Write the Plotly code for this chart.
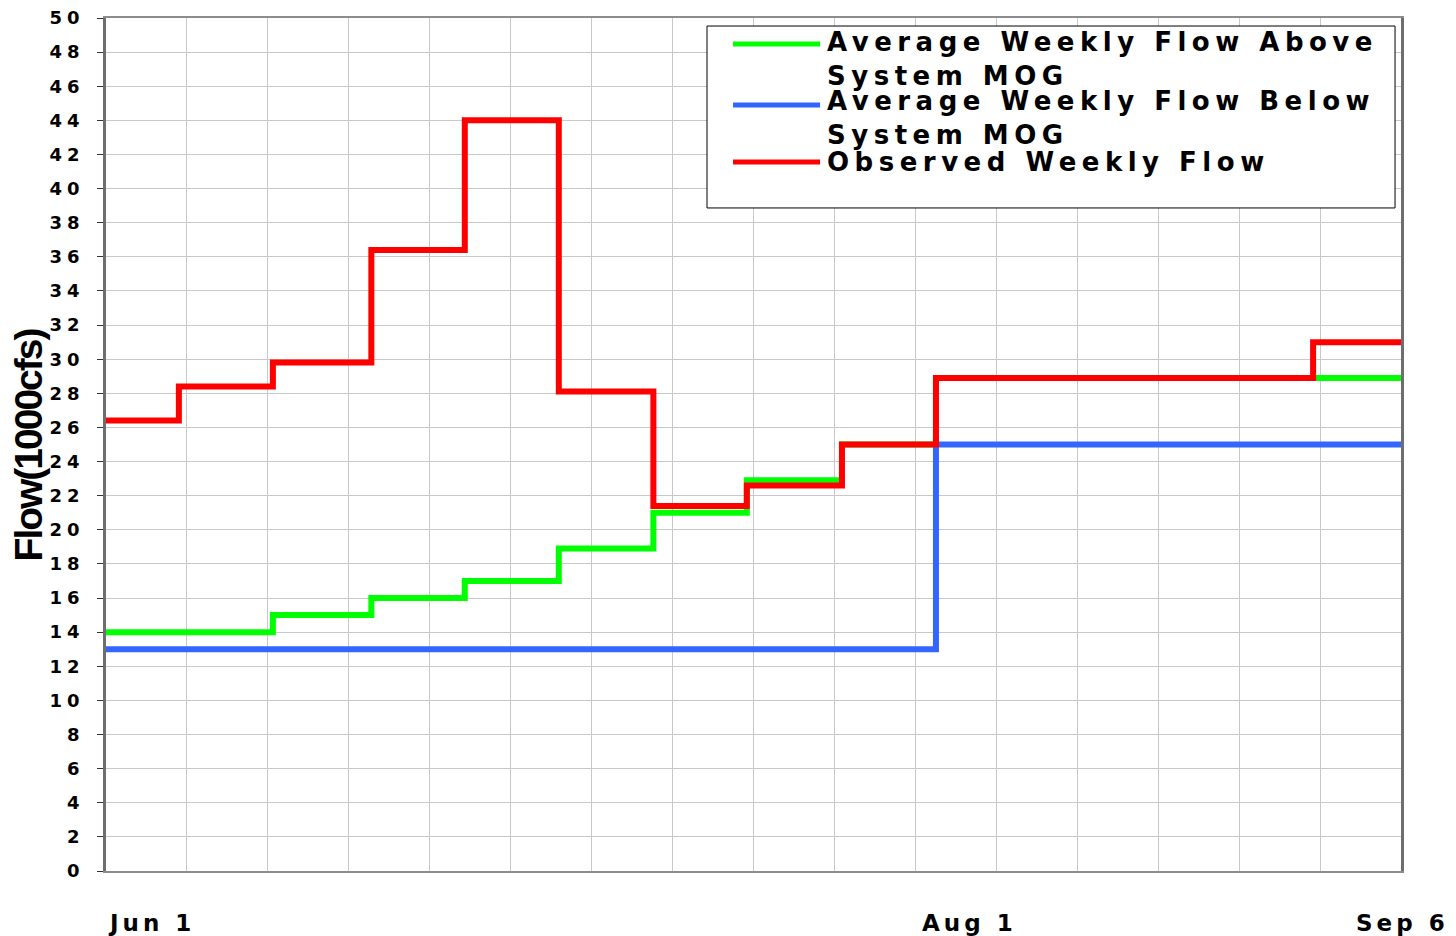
import plotly.graph_objects as go

# week boundaries (first = start of axis, last = end of axis)
step_dates = ["2010-06-01", "2010-06-06 11:00", "2010-06-13 12:00", "2010-06-20 21:00",
              "2010-06-27 21:00", "2010-07-04 22:00", "2010-07-12 00:00", "2010-07-19 00:00",
              "2010-07-26 03:00", "2010-08-02 04:00", "2010-08-30 10:00", "2010-09-06"]

# one value per week (1000 cfs)
above_mog = [14.0, 14.0, 15.0, 16.0, 17.0, 18.9, 21.0, 22.9, 25.0, 28.9, 28.9]
below_mog = [13.0, 13.0, 13.0, 13.0, 13.0, 13.0, 13.0, 13.0, 13.0, 25.0, 25.0]
observed = [26.4, 28.4, 29.8, 36.4, 44.0, 28.1, 21.4, 22.6, 25.0, 28.9, 31.0]

series_names = ["Average Weekly Flow Above<br>System MOG",
                "Average Weekly Flow Below<br>System MOG",
                "Observed Weekly Flow"]

x_labels = ["Jun 1", "Aug 1", "Sep 6"]
x_label_dates = ["2010-06-01", "2010-08-01", "2010-09-06"]

y_title = "Flow(1000cfs)"
y_ticks = list(range(0, 51, 2))
y_ticktext = ['<span style="letter-spacing:5px">%d</span>' % v for v in y_ticks]

colors = ["#00ff00", "#3366ff", "#ff0000"]
BOLD = "DejaVu Sans"


def spaced(txt, sp):
    return "<br>".join('<span style="letter-spacing:%spx">%s</span>' % (sp, t)
                       for t in txt.split("<br>"))


fig = go.Figure()
for vals, col, name in zip([above_mog, below_mog, observed], colors, series_names):
    fig.add_trace(go.Scatter(
        x=step_dates,
        y=vals + [vals[-1]],
        mode="lines",
        line=dict(color=col, width=6, shape="hv"),
        name=name.replace("<br>", " "),
        showlegend=False))

# legend drawn by hand to match the original layout
legend_line_y = [0.9695, 0.8980, 0.8312]
legend_text_y = [0.9514, 0.8822, 0.8317]
shapes = [dict(type="rect", xref="paper", yref="paper", x0=0.4641, x1=0.9954,
               y0=0.7773, y1=0.9906, line=dict(color="black", width=1),
               fillcolor="white", layer="above")]
annotations = []
for col, name, ly, ty in zip(colors, series_names, legend_line_y, legend_text_y):
    shapes.append(dict(type="line", xref="paper", yref="paper", x0=0.4842, x1=0.5514,
                       y0=ly, y1=ly, line=dict(color=col, width=5), layer="above"))
    annotations.append(dict(xref="paper", yref="paper", x=0.5555, y=ty,
                            xanchor="left", yanchor="middle", align="left",
                            showarrow=False, text=spaced(name, 5.5),
                            font=dict(family=BOLD, size=26, color="black", weight="bold")))

for lab, d in zip(x_labels, x_label_dates):
    last = lab == x_labels[-1]
    annotations.append(dict(xref="x", yref="paper", x=d, y=-0.061,
                            xanchor="right" if last else "left", yanchor="middle",
                            xshift=50 if last else 0, showarrow=False,
                            text=spaced(lab, 4),
                            font=dict(family=BOLD, size=23, color="black", weight="bold")))

# y axis title
annotations.append(dict(xref="paper", yref="paper", x=-0.0595, y=0.5,
                        xanchor="center", yanchor="middle", textangle=-90,
                        showarrow=False, text=spaced(y_title, -2),
                        font=dict(family="Liberation Sans", size=39, color="black",
                                  weight="bold")))

# page body adds an 8px offset, so the figure is 8px smaller than the window
fig.update_layout(
    width=1448, height=928,
    margin=dict(l=98, r=55, t=10, b=65),
    paper_bgcolor="white", plot_bgcolor="white",
    shapes=shapes, annotations=annotations,
    xaxis=dict(
        type="date", range=["2010-06-01", "2010-09-06"], automargin=False,
        showticklabels=False, ticks="", showgrid=False, zeroline=False,
        showline=True, linecolor="#8c8c8c", linewidth=2, mirror=True,
        minor=dict(tick0="2010-06-01", dtick=97 / 16 * 86400000,
                   showgrid=True, gridcolor="#c8c8c8", gridwidth=1, ticks=""),
    ),
    yaxis=dict(
        range=[0, 50], tickvals=y_ticks, ticktext=y_ticktext, automargin=False,
        ticks="outside", ticklen=6, tickcolor="#333333", ticklabelstandoff=9,
        ticklabeloverflow="allow",
        tickfont=dict(family=BOLD, size=18, color="black", weight="bold"),
        showgrid=True, gridcolor="#c8c8c8", gridwidth=1, zeroline=False,
        showline=True, linecolor="#6e6e6e", linewidth=2.5, mirror=True,
    ),
)

fig.write_html("out.html")
